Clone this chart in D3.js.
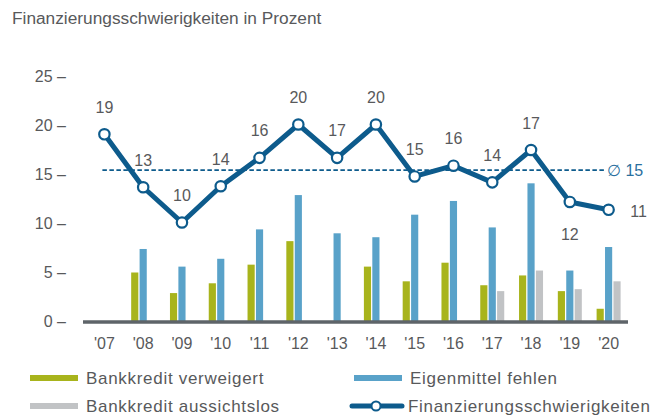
<!DOCTYPE html>
<html>
<head>
<meta charset="utf-8">
<script src="https://cdn.jsdelivr.net/npm/d3@7/dist/d3.min.js"></script>
<style>
    body { margin: 0; background: #fff; }
    #chart { width: 661px; height: 416px; }
    text { font-family: "Liberation Sans", Arial, sans-serif; }
</style>
</head>
<body>
<div id="chart"></div>
<script>
// chart data
const years = ["'07", "'08", "'09", "'10", "'11", "'12", "'13", "'14", "'15", "'16", "'17", "'18", "'19", "'20"];
const bankkreditVerweigert = [null, 5.0, 2.9, 3.9, 5.8, 8.2, null, 5.6, 4.1, 6.0, 3.7, 4.7, 3.1, 1.3];
const eigenmittelFehlen = [null, 7.4, 5.6, 6.4, 9.4, 12.9, 9.0, 8.6, 10.9, 12.3, 9.6, 14.1, 5.2, 7.6];
const bankkreditAussichtslos = [null, null, null, null, null, null, null, null, null, null, 3.1, 5.2, 3.3, 4.1];
const schwierigkeiten = [19.1, 13.7, 10.1, 13.8, 16.7, 20.1, 16.7, 20.1, 14.8, 15.9, 14.2, 17.5, 12.2, 11.4];
const schwierigkeitenLabels = ["19", "13", "10", "14", "16", "20", "17", "20", "15", "16", "14", "17", "12", "11"];
const average = 15.45;
const averageLabel = "\u2205 15";
const yTicks = [0, 5, 10, 15, 20, 25];

const seriesNames = ["Bankkredit verweigert", "Eigenmittel fehlen", "Bankkredit aussichtslos"];
const lineName = "Finanzierungsschwierigkeiten";
const title = "Finanzierungsschwierigkeiten in Prozent";

const colors = {
    green: '#a8b41c',
    blue: '#59a2c9',
    gray: '#c1c3c5',
    navy: '#0d5b8c',
    axis: '#5e6469',
    text: '#58595b'
};
const barColors = [colors.green, colors.blue, colors.gray];

const svg = d3.select("#chart").append("svg")
    .attr("width", 661)
    .attr("height", 416);

// Title
svg.append("text")
    .attr("x", 12)
    .attr("y", 24)
    .attr("font-size", 17.3)
    .attr("fill", colors.text)
    .text(title);

// Scales
const x = d3.scaleBand()
    .domain(years)
    .range([85, 628]);

const xSub = d3.scaleBand()
    .domain(seriesNames)
    .range([-12, 12])
    .paddingInner(0.15);

const y = d3.scaleLinear()
    .domain([0, 25])
    .range([321.5, 76.5]);

const cx = d => x(d) + x.bandwidth() / 2;

// Y axis (label plus dash)
const yAxis = svg.append("g").attr("class", "y-axis");
yAxis.selectAll("text")
    .data(yTicks)
    .enter()
    .append("text")
    .attr("x", 66)
    .attr("y", d => y(d))
    .attr("dy", "0.35em")
    .attr("text-anchor", "end")
    .attr("font-size", 16)
    .attr("fill", colors.text)
    .text(d => d + " \u2013");

// Bars
const barRows = years.map((yr, i) => ({
    year: yr,
    values: [bankkreditVerweigert[i], eigenmittelFehlen[i], bankkreditAussichtslos[i]]
}));

const groups = svg.append("g").attr("class", "bars")
    .selectAll("g")
    .data(barRows)
    .enter()
    .append("g")
    .attr("transform", d => "translate(" + cx(d.year) + ",0)");

groups.selectAll("rect")
    .data(d => d.values.map((v, j) => ({series: seriesNames[j], value: v, color: barColors[j]})).filter(b => b.value !== null))
    .enter()
    .append("rect")
    .attr("x", d => xSub(d.series))
    .attr("width", xSub.bandwidth())
    .attr("y", d => y(d.value))
    .attr("height", d => y(0) - y(d.value))
    .attr("fill", d => d.color);

// Baseline
svg.append("line")
    .attr("x1", x.range()[0] - 2)
    .attr("x2", x.range()[1])
    .attr("y1", y(0) + 0.5)
    .attr("y2", y(0) + 0.5)
    .attr("stroke", colors.axis)
    .attr("stroke-width", 3.5);

// X axis labels
svg.append("g").attr("class", "x-axis")
    .selectAll("text")
    .data(years)
    .enter()
    .append("text")
    .attr("x", d => cx(d))
    .attr("y", 349)
    .attr("text-anchor", "middle")
    .attr("font-size", 16)
    .attr("fill", colors.text)
    .text(d => d);

// Average line
svg.append("line")
    .attr("x1", cx(years[0]) - 2)
    .attr("x2", 606)
    .attr("y1", y(average))
    .attr("y2", y(average))
    .attr("stroke", colors.navy)
    .attr("stroke-width", 1.8)
    .attr("stroke-dasharray", "4.5,2.5");

svg.append("text")
    .attr("x", 607)
    .attr("y", y(average))
    .attr("dy", "0.35em")
    .attr("font-size", 16)
    .attr("fill", '#2a6f9e')
    .text(averageLabel);

// Line series
const points = years.map((yr, i) => ({year: yr, value: schwierigkeiten[i], label: schwierigkeitenLabels[i]}));

const line = d3.line()
    .x(d => cx(d.year))
    .y(d => y(d.value));

svg.append("path")
    .datum(points)
    .attr("d", line)
    .attr("fill", "none")
    .attr("stroke", colors.navy)
    .attr("stroke-width", 5)
    .attr("stroke-linejoin", "round");

svg.append("g").attr("class", "markers")
    .selectAll("circle")
    .data(points)
    .enter()
    .append("circle")
    .attr("cx", d => cx(d.year))
    .attr("cy", d => y(d.value))
    .attr("r", 5.2)
    .attr("fill", "#fff")
    .attr("stroke", colors.navy)
    .attr("stroke-width", 2.2);

// value labels: mostly above, '19 below, '20 right of the point
svg.append("g").attr("class", "value-labels")
    .selectAll("text")
    .data(points)
    .enter()
    .append("text")
    .attr("x", d => d.year === "'20" ? cx(d.year) + 30 : cx(d.year))
    .attr("y", d => {
        if (d.year === "'19") return y(d.value) + 32;
        if (d.year === "'20") return y(d.value) + 2;
        return y(d.value) - 27;
    })
    .attr("dy", "0.35em")
    .attr("text-anchor", "middle")
    .attr("font-size", 16)
    .attr("fill", colors.text)
    .text(d => d.label);

// Legend
const legendItems = [
    {name: seriesNames[0], color: colors.green, type: 'bar', x: 30, y: 378},
    {name: seriesNames[1], color: colors.blue, type: 'bar', x: 354, y: 378},
    {name: seriesNames[2], color: colors.gray, type: 'bar', x: 30, y: 406},
    {name: lineName, color: colors.navy, type: 'line', x: 352, y: 406}
];

const legend = svg.append("g").attr("class", "legend")
    .selectAll("g")
    .data(legendItems)
    .enter()
    .append("g")
    .attr("transform", d => "translate(" + d.x + "," + d.y + ")");

legend.filter(d => d.type === 'bar')
    .append("rect")
    .attr("x", 0)
    .attr("y", -3)
    .attr("width", 48)
    .attr("height", 6)
    .attr("fill", d => d.color);

let lineLegend = legend.filter(d => d.type === 'line');
lineLegend.append("line")
    .attr("x1", 0)
    .attr("x2", 50)
    .attr("stroke", d => d.color)
    .attr("stroke-width", 5)
    .attr("stroke-linecap", "round");
lineLegend.append("circle")
    .attr("cx", 24)
    .attr("r", 4.5)
    .attr("fill", "#fff")
    .attr("stroke", d => d.color)
    .attr("stroke-width", 2);

legend.append("text")
    .attr("x", d => d.type === 'line' ? 56 : 56)
    .attr("dy", "0.35em")
    .attr("font-size", 17)
    .attr("letter-spacing", 0.7)
    .attr("fill", colors.text)
    .text(d => d.name);
</script>
</body>
</html>
